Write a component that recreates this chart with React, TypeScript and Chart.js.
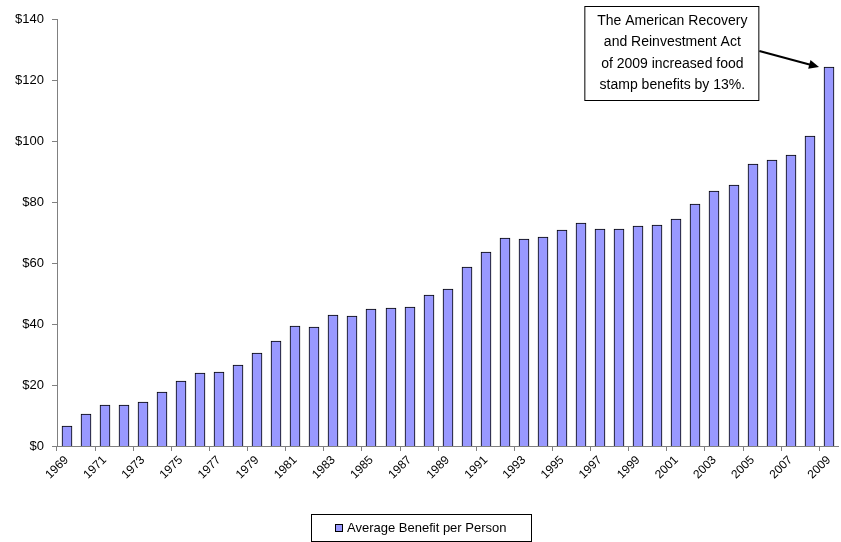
import React, { useEffect, useRef } from "react";
import { Chart, registerables } from "chart.js";

Chart.register(...registerables);

const years: string[] = [
  "1969", "1970", "1971", "1972", "1973", "1974", "1975", "1976", "1977", "1978",
  "1979", "1980", "1981", "1982", "1983", "1984", "1985", "1986", "1987", "1988",
  "1989", "1990", "1991", "1992", "1993", "1994", "1995", "1996", "1997", "1998",
  "1999", "2000", "2001", "2002", "2003", "2004", "2005", "2006", "2007", "2008",
  "2009",
];

const benefit: number[] = [
  6.6, 10.5, 13.3, 13.3, 14.4, 17.6, 21.3, 24.0, 24.4, 26.7,
  30.4, 34.3, 39.3, 39.0, 43.0, 42.5, 44.9, 45.2, 45.7, 49.6,
  51.6, 58.7, 63.5, 68.2, 67.9, 68.6, 70.9, 73.0, 71.0, 71.0,
  72.2, 72.6, 74.5, 79.3, 83.6, 85.7, 92.4, 93.9, 95.5, 101.5,
  124.3,
];

const seriesName = "Average Benefit per Person";
const noteLines: string[] = [
  "The American Recovery",
  "and Reinvestment Act",
  "of 2009 increased food",
  "stamp benefits by 13%.",
];

const FONT = "'Liberation Sans', Arial, sans-serif";
const BAR_FILL = "#9999FF";

const snapPlugin = {
  id: "snap",
  beforeDatasetsDraw(chart: any) {
    const meta = chart.getDatasetMeta(0);
    meta.data.forEach((el: any) => {
      el.x = Math.round(el.x);
      el.y = Math.round(el.y);
      el.base = Math.round(el.base);
    });
  },
};

const overlayPlugin = {
  id: "overlay",
  afterDraw(chart: any) {
    const ctx = chart.ctx as CanvasRenderingContext2D;
    const area = chart.chartArea;
    const W = chart.width;
    const H = chart.height;
    ctx.save();

    // Annotation box
    const boxW = 174;
    const boxH = 94;
    const boxX = area.right - 254;
    const boxY = 6;
    ctx.fillStyle = "#fff";
    ctx.fillRect(boxX, boxY, boxW, boxH);
    ctx.strokeStyle = "#000";
    ctx.lineWidth = 1;
    ctx.strokeRect(boxX + 0.5, boxY + 0.5, boxW, boxH);
    ctx.fillStyle = "#000";
    ctx.font = `14px ${FONT}`;
    ctx.textAlign = "center";
    ctx.textBaseline = "middle";
    noteLines.forEach((l, i) => {
      ctx.fillText(l, boxX + boxW / 2 + 1, boxY + 15 + i * 21.5);
    });

    // Arrow to last bar
    const meta = chart.getDatasetMeta(0);
    const last = meta.data[meta.data.length - 1];
    const tipX = last.x - last.width / 2 - 5;
    const tipY = last.y;
    const sx = boxX + boxW + 1;
    const sy = boxY + 45;
    const ang = Math.atan2(tipY - sy, tipX - sx);
    ctx.strokeStyle = "#000";
    ctx.lineWidth = 2;
    ctx.beginPath();
    ctx.moveTo(sx, sy);
    ctx.lineTo(tipX - 8 * Math.cos(ang), tipY - 8 * Math.sin(ang));
    ctx.stroke();
    ctx.beginPath();
    ctx.moveTo(tipX, tipY);
    ctx.lineTo(tipX - 10 * Math.cos(ang) + 4.5 * Math.sin(ang), tipY - 10 * Math.sin(ang) - 4.5 * Math.cos(ang));
    ctx.lineTo(tipX - 10 * Math.cos(ang) - 4.5 * Math.sin(ang), tipY - 10 * Math.sin(ang) + 4.5 * Math.cos(ang));
    ctx.closePath();
    ctx.fillStyle = "#000";
    ctx.fill();

    // Legend
    ctx.font = `13px ${FONT}`;
    const tw = ctx.measureText(seriesName).width;
    const lw = 220;
    const lh = 27;
    const lx = Math.round(W / 2 - lw / 2);
    const ly = H - lh - 1;
    ctx.lineWidth = 1;
    ctx.strokeStyle = "#000";
    ctx.strokeRect(lx + 0.5, ly + 0.5, lw, lh);
    const sw = 8;
    const contentW = sw + 4 + tw;
    const cx = Math.round(lx + (lw - contentW) / 2);
    const cy = Math.round(ly + lh / 2 - sw / 2);
    ctx.fillStyle = BAR_FILL;
    ctx.fillRect(cx, cy, sw, sw);
    ctx.strokeRect(cx + 0.5, cy + 0.5, sw - 1, sw - 1);
    ctx.fillStyle = "#000";
    ctx.textAlign = "left";
    ctx.textBaseline = "middle";
    ctx.fillText(seriesName, cx + sw + 4, ly + lh / 2 + 1);

    ctx.restore();
  },
};

export default function App() {
  const ref = useRef<HTMLCanvasElement | null>(null);

  useEffect(() => {
    if (!ref.current) return;
    const chart = new Chart(ref.current, {
      type: "bar",
      data: {
        labels: years,
        datasets: [
          {
            label: seriesName,
            data: benefit,
            backgroundColor: BAR_FILL,
            borderColor: "#000",
            borderWidth: 1,
            borderSkipped: "bottom",
            barThickness: 10,
          },
        ],
      },
      options: {
        responsive: false,
        animation: false,
        layout: { padding: { top: 19, right: 0, left: 0, bottom: 0 } },
        plugins: {
          legend: { display: false },
          tooltip: { enabled: false },
        },
        scales: {
          x: {
            afterFit: (s: any) => {
              s.height = 96;
            },
            border: { color: "#808080", width: 1 },
            grid: {
              offset: true,
              drawOnChartArea: false,
              drawTicks: true,
              tickLength: 5,
              color: (c: any) => (c.index % 2 === 0 ? "#808080" : "rgba(0,0,0,0)"),
            },
            ticks: {
              autoSkip: false,
              minRotation: 45,
              maxRotation: 45,
              color: "#000",
              padding: 2,
              font: { family: FONT, size: 12 },
              callback: (_v: any, i: number) => (i % 2 === 0 ? years[i] : ""),
            },
          },
          y: {
            min: 0,
            max: 140,
            afterFit: (s: any) => {
              s.width = 57;
            },
            border: { color: "#808080", width: 1 },
            grid: {
              drawOnChartArea: false,
              drawTicks: true,
              tickLength: 5,
              color: "#808080",
            },
            ticks: {
              stepSize: 20,
              color: "#000",
              padding: 8,
              font: { family: FONT, size: 13 },
              callback: (v: any) => "$" + v,
            },
          },
        },
      },
      plugins: [snapPlugin, overlayPlugin],
    });
    return () => chart.destroy();
  }, []);

  return (
    <canvas
      ref={ref}
      width={841}
      height={542}
      style={{ position: "absolute", left: 0, top: 0, width: 841, height: 542 }}
    />
  );
}
